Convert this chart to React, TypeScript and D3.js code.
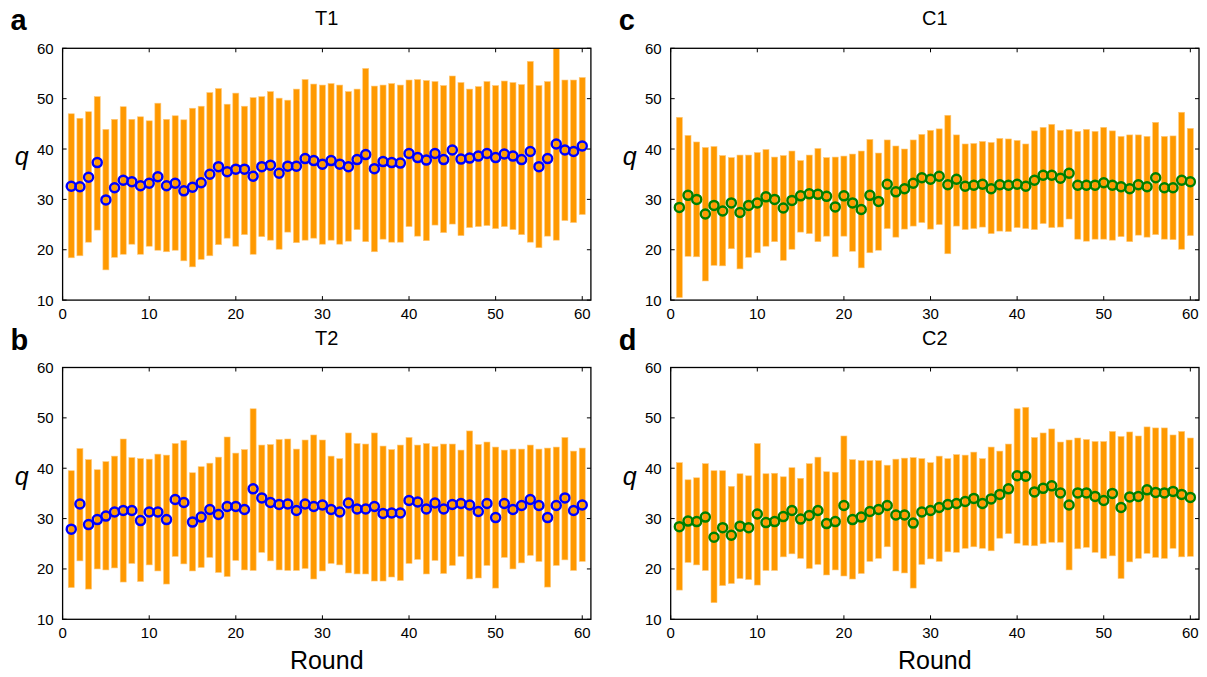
import React from "react";
import * as d3 from "d3";

// Per-round summary of q: low end, high end and mean, for rounds 1..60
const rounds = d3.range(1, 61);

const t1High = [47.0, 46.1, 47.4, 50.4, 43.9, 45.9, 48.4, 45.9, 46.4, 45.6, 49.1, 45.9, 46.6, 45.8, 48.1, 48.5, 51.2, 52.0, 48.9, 51.1,
  48.5, 50.2, 50.4, 51.4, 50.1, 49.7, 51.9, 53.8, 52.9, 52.7, 53.0, 52.7, 51.4, 51.9, 56.0, 52.5, 52.7, 53.0, 52.7, 53.7,
  53.8, 53.6, 53.4, 52.6, 54.5, 53.2, 51.9, 52.4, 53.4, 52.6, 53.5, 53.2, 52.8, 57.4, 52.6, 53.4, 60.0, 53.7, 53.7, 54.2];
const t1Low = [18.4, 18.8, 21.5, 23.9, 16.0, 18.5, 19.1, 21.1, 19.1, 20.7, 19.9, 19.6, 19.9, 17.8, 16.6, 18.1, 18.8, 21.0, 22.3, 20.7,
  23.0, 19.1, 22.6, 21.9, 20.1, 23.5, 21.4, 21.9, 22.3, 21.1, 21.9, 21.1, 21.7, 24.0, 21.6, 19.6, 22.1, 21.5, 21.5, 24.6,
  22.7, 21.8, 24.9, 23.4, 25.1, 22.8, 24.4, 24.6, 24.8, 24.2, 24.6, 24.0, 23.0, 21.5, 20.4, 22.7, 21.9, 25.8, 25.4, 27.0];
const t1Mean = [32.6, 32.5, 34.4, 37.3, 29.9, 32.3, 33.8, 33.5, 32.7, 33.2, 34.5, 32.7, 33.2, 31.7, 32.4, 33.3, 35.0, 36.5, 35.5, 36.0,
  36.0, 34.6, 36.5, 36.8, 35.2, 36.6, 36.6, 38.1, 37.7, 37.0, 37.7, 37.0, 36.5, 37.9, 38.9, 36.1, 37.5, 37.3, 37.2, 39.1,
  38.3, 37.8, 39.1, 37.9, 39.8, 38.0, 38.2, 38.6, 39.1, 38.3, 39.0, 38.6, 37.9, 39.5, 36.5, 38.1, 41.0, 39.8, 39.5, 40.6];

const t2High = [39.5, 43.9, 41.7, 39.7, 41.3, 42.4, 45.8, 42.1, 41.9, 41.8, 42.8, 42.6, 44.9, 45.5, 39.1, 40.3, 41.0, 42.2, 46.2, 43.0,
  43.7, 51.8, 44.6, 44.7, 45.7, 45.8, 43.8, 45.6, 46.6, 45.6, 42.4, 41.9, 47.0, 44.9, 44.8, 47.0, 44.4, 43.7, 44.6, 46.1,
  44.6, 44.9, 44.3, 44.8, 44.8, 43.6, 47.4, 44.7, 45.2, 44.2, 43.6, 43.8, 43.8, 44.6, 43.8, 44.0, 44.2, 46.1, 43.4, 44.0];
const t2Low = [16.3, 21.6, 16.0, 20.0, 19.8, 20.2, 17.4, 21.1, 17.5, 20.8, 19.6, 17.0, 22.5, 21.0, 19.6, 20.3, 22.3, 19.3, 18.5, 21.7,
  19.8, 19.7, 23.3, 21.6, 19.8, 19.7, 19.7, 20.1, 18.0, 19.6, 21.1, 20.8, 19.2, 19.0, 19.0, 17.6, 17.6, 18.4, 17.7, 21.1,
  21.9, 19.0, 21.7, 19.1, 20.7, 22.5, 18.0, 18.2, 20.7, 16.2, 22.3, 20.0, 21.2, 22.7, 21.5, 16.4, 20.7, 21.8, 19.7, 21.5];
const t2Mean = [27.9, 32.9, 28.8, 29.8, 30.5, 31.3, 31.6, 31.6, 29.6, 31.3, 31.3, 29.8, 33.8, 33.2, 29.3, 30.3, 31.8, 30.8, 32.4, 32.4,
  31.8, 35.9, 34.1, 33.2, 32.8, 32.9, 31.6, 32.9, 32.4, 32.7, 31.8, 31.3, 33.1, 31.9, 31.9, 32.4, 31.0, 31.1, 31.1, 33.6,
  33.3, 31.9, 33.1, 31.9, 32.8, 33.0, 32.7, 31.4, 33.0, 30.2, 33.0, 31.8, 32.6, 33.8, 32.6, 30.2, 32.6, 34.1, 31.6, 32.7];

const c1High = [46.3, 42.7, 41.4, 40.3, 40.5, 38.7, 38.3, 38.8, 38.8, 39.3, 39.9, 38.4, 38.7, 39.6, 37.7, 38.8, 40.1, 38.3, 38.4, 38.6,
  39.0, 39.6, 41.9, 39.2, 41.8, 40.6, 40.0, 41.8, 42.9, 43.7, 44.0, 46.7, 42.8, 41.0, 41.1, 41.5, 41.3, 42.1, 42.0, 41.7,
  41.0, 43.6, 44.3, 44.9, 43.7, 43.9, 43.5, 43.9, 43.5, 44.3, 43.6, 42.5, 42.8, 42.8, 42.5, 45.3, 42.5, 42.6, 47.3, 44.1];
const c1Low = [10.5, 18.7, 18.6, 13.8, 16.9, 16.8, 20.2, 16.2, 18.5, 19.4, 20.7, 21.6, 17.9, 20.1, 23.5, 23.2, 21.6, 22.7, 18.6, 22.7,
  19.7, 16.4, 19.4, 19.9, 24.2, 22.5, 24.1, 24.7, 25.4, 24.1, 25.0, 19.2, 24.7, 24.0, 24.2, 24.5, 23.2, 23.7, 23.6, 24.4,
  24.2, 24.0, 25.2, 24.4, 24.5, 26.1, 22.1, 21.7, 22.1, 22.1, 21.9, 22.6, 21.6, 22.9, 22.5, 23.0, 22.1, 22.0, 20.1, 22.8];
const c1Mean = [28.4, 30.8, 30.0, 27.1, 28.8, 27.7, 29.3, 27.4, 28.8, 29.3, 30.5, 30.0, 28.3, 29.8, 30.7, 31.1, 31.0, 30.6, 28.5, 30.7,
  29.3, 28.0, 30.8, 29.6, 33.0, 31.5, 32.1, 33.2, 34.3, 34.0, 34.6, 32.9, 34.0, 32.6, 32.8, 33.0, 32.1, 32.9, 32.8, 33.0,
  32.6, 33.8, 34.8, 34.8, 34.2, 35.2, 32.8, 32.8, 32.8, 33.3, 32.8, 32.5, 32.1, 32.9, 32.5, 34.3, 32.3, 32.3, 33.8, 33.5];

const c2High = [41.1, 37.7, 38.1, 40.9, 39.5, 39.5, 36.4, 38.9, 38.5, 44.9, 38.9, 39.0, 38.3, 40.1, 38.0, 40.9, 42.2, 39.3, 39.2, 46.4,
  41.7, 41.5, 41.5, 41.5, 40.6, 41.8, 42.0, 42.1, 41.9, 41.1, 42.4, 41.9, 42.7, 42.6, 43.2, 41.9, 44.2, 43.4, 44.8, 51.8,
  52.1, 46.1, 47.0, 47.8, 45.2, 45.6, 46.0, 45.7, 45.3, 45.3, 47.3, 46.3, 47.2, 46.4, 48.2, 48.0, 48.0, 46.6, 47.3, 46.0];
const c2Low = [15.8, 21.3, 20.8, 19.7, 13.3, 16.7, 17.1, 18.1, 17.9, 16.8, 19.7, 19.7, 22.4, 23.0, 22.1, 20.1, 20.9, 18.8, 19.8, 18.6,
  18.0, 19.1, 21.5, 22.1, 24.4, 19.6, 19.2, 16.2, 20.9, 22.0, 21.5, 23.4, 23.3, 24.1, 24.4, 24.1, 23.6, 26.1, 27.0, 25.1,
  24.7, 24.6, 25.0, 25.3, 25.3, 19.8, 24.0, 24.3, 23.3, 22.1, 22.6, 18.1, 21.4, 22.1, 23.1, 22.3, 22.1, 24.1, 22.4, 22.5];
const c2Mean = [28.4, 29.5, 29.4, 30.3, 26.3, 28.2, 26.7, 28.5, 28.2, 30.9, 29.2, 29.4, 30.4, 31.6, 29.9, 30.6, 31.6, 29.0, 29.4, 32.6,
  29.8, 30.3, 31.4, 31.8, 32.6, 30.7, 30.7, 29.1, 31.3, 31.6, 32.2, 32.8, 33.0, 33.4, 34.0, 33.0, 33.9, 34.8, 35.9, 38.5,
  38.4, 35.3, 36.0, 36.5, 35.1, 32.7, 35.1, 35.1, 34.4, 33.6, 35.0, 32.2, 34.3, 34.4, 35.7, 35.2, 35.1, 35.4, 34.8, 34.2];

const xTicks = [0, 10, 20, 30, 40, 50, 60];
const yTicks = [10, 20, 30, 40, 50, 60];

const FONT = "'Liberation Sans', Arial, Helvetica, sans-serif";
const BAR = "#ff9900";

type PanelProps = {
  left: number; top: number; width: number; height: number;
  letter: string; title: string; markerColor: string;
  high: number[]; low: number[]; mean: number[];
  showXLabel: boolean;
};

function Panel({ left, top, width, height, letter, title, markerColor, high, low, mean, showXLabel }: PanelProps) {
  const x = d3.scaleLinear().domain([0, 61]).range([left, left + width]);
  const y = d3.scaleLinear().domain([10, 60]).range([top + height, top]);
  const barW = 6;
  const tickLen = 4;
  const clipId = `clip-${letter}`;
  return (
    <g>
      <defs>
        <clipPath id={clipId}>
          <rect x={left} y={top} width={width} height={height} />
        </clipPath>
      </defs>
      <g clipPath={`url(#${clipId})`}>
        {rounds.map((r, i) => (
          <rect key={`b${r}`} x={x(r) - barW / 2} y={y(high[i])} width={barW}
            height={y(low[i]) - y(high[i])} fill={BAR} stroke="#ffc979" strokeWidth={0.6} />
        ))}
        {rounds.map((r, i) => (
          <circle key={`m${r}`} cx={x(r)} cy={y(mean[i])} r={4.5} fill="none"
            stroke={markerColor} strokeWidth={2.5} />
        ))}
      </g>
      {/* ticks on all four sides, pointing inward */}
      {xTicks.map((t) => (
        <g key={`xt${t}`}>
          <line x1={x(t)} x2={x(t)} y1={top + height} y2={top + height - tickLen} stroke="#000" strokeWidth={1} />
          <line x1={x(t)} x2={x(t)} y1={top} y2={top + tickLen} stroke="#000" strokeWidth={1} />
          <text x={x(t)} y={top + height + 19} textAnchor="middle" fontSize={15} fontFamily={FONT}>{t}</text>
        </g>
      ))}
      {yTicks.map((t) => (
        <g key={`yt${t}`}>
          <line x1={left} x2={left + tickLen} y1={y(t)} y2={y(t)} stroke="#000" strokeWidth={1} />
          <line x1={left + width} x2={left + width - tickLen} y1={y(t)} y2={y(t)} stroke="#000" strokeWidth={1} />
          <text x={left - 9} y={y(t) + 5.5} textAnchor="end" fontSize={15} fontFamily={FONT}>{t}</text>
        </g>
      ))}
      <rect x={left} y={top} width={width} height={height} fill="none" stroke="#000" strokeWidth={1.3} />
      <text x={left + width / 2} y={top - 23} textAnchor="middle" fontSize={20} fontFamily={FONT}>{title}</text>
      <text x={left - 52} y={top - 18} fontSize={29} fontWeight="bold" fontFamily={FONT}>{letter}</text>
      <text x={left - 41} y={top + 117} textAnchor="middle" fontSize={25} fontStyle="italic" fontFamily={FONT}>q</text>
      {showXLabel && (
        <text x={left + width / 2} y={top + height + 50} textAnchor="middle" fontSize={25} fontFamily={FONT}>Round</text>
      )}
    </g>
  );
}

export default function App() {
  const W = 1207;
  const H = 677;
  const colL = 62.6;
  const colR = 670.7;
  const pw = 528.3;
  const rowT = 48.3;
  const rowB = 367.5;
  const ph = 251.8;
  return (
    <svg width={W} height={H} viewBox={`0 0 ${W} ${H}`}
      style={{ position: "absolute", left: 0, top: 0, display: "block", background: "#fff" }}>
      <rect x={0} y={0} width={W} height={H} fill="#fff" />
      <Panel left={colL} top={rowT} width={pw} height={ph} letter="a" title="T1" markerColor="#0000ff"
        high={t1High} low={t1Low} mean={t1Mean} showXLabel={false} />
      <Panel left={colL} top={rowB} width={pw} height={ph} letter="b" title="T2" markerColor="#0000ff"
        high={t2High} low={t2Low} mean={t2Mean} showXLabel={true} />
      <Panel left={colR} top={rowT} width={pw} height={ph} letter="c" title="C1" markerColor="#008000"
        high={c1High} low={c1Low} mean={c1Mean} showXLabel={false} />
      <Panel left={colR} top={rowB} width={pw} height={ph} letter="d" title="C2" markerColor="#008000"
        high={c2High} low={c2Low} mean={c2Mean} showXLabel={true} />
    </svg>
  );
}
